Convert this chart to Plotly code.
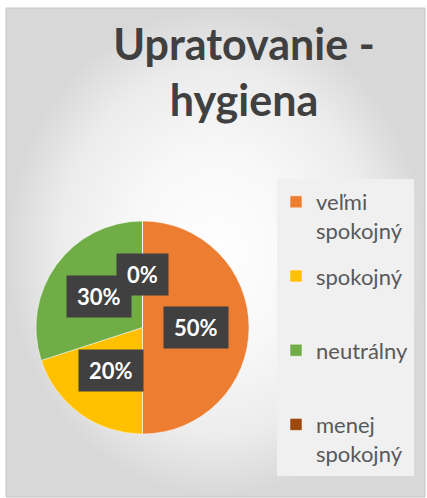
import math
import plotly.graph_objects as go

W, H = 427, 498

# ---- data ----
categories = ["veľmi spokojný", "spokojný", "neutrálny", "menej spokojný"]
legend_labels = ["veľmi<br>spokojný", "spokojný<br> ", "neutrálny<br> ", "menej<br>spokojný"]
values = [50, 20, 30, 0]
colors = ["#ED7D31", "#FFC000", "#70AD47", "#9E480E"]
title_text = "Upratovanie -<br>hygiena"

# ---- layout geometry (px) ----
AREA = dict(x0=6, x1=425, y0=8, y1=497)
PIE_L, PIE_R, PIE_T, PIE_B = 36, 249, 221, 434
LEG_BOX = dict(x0=277, x1=414, y0=179, y1=476)
LABEL_R = 0.5

fig = go.Figure()

# chart-area background with radial gradient
fig.add_trace(go.Scatter(
    x=[AREA["x0"], AREA["x1"], AREA["x1"], AREA["x0"], AREA["x0"]],
    y=[AREA["y0"], AREA["y0"], AREA["y1"], AREA["y1"], AREA["y0"]],
    mode="lines", fill="toself",
    fillgradient=dict(type="radial",
                      colorscale=[[0, "#fefefe"], [0.4, "#f8f8f8"],
                                  [0.75, "#ececec"], [1, "#d8d8d8"]]),
    line=dict(color="#c4c4c4", width=1),
    hoverinfo="skip", showlegend=False,
))

fig.add_trace(go.Pie(
    labels=legend_labels,
    values=values,
    marker=dict(colors=colors, line=dict(color="#ffffff", width=0.5)),
    sort=False, direction="clockwise", rotation=0,
    textinfo="none",
    hovertext=categories, hoverinfo="text+percent",
    domain=dict(x=[PIE_L / W, PIE_R / W], y=[1 - PIE_B / H, 1 - PIE_T / H]),
))

# invisible spacer entry so that the legend keeps each slice in its own group
fig.add_trace(go.Scatter(
    x=[None], y=[None], mode="markers", name=" ",
    marker=dict(color="rgba(0,0,0,0)", size=1),
    legendgroup="spacer", showlegend=True, hoverinfo="skip",
))

# data labels at mid-angle of each slice
total = sum(values)
cx, cy = (PIE_L + PIE_R) / 2, (PIE_T + PIE_B) / 2
R = (PIE_R - PIE_L) / 2
cum = 0
annotations = []
for v in values:
    mid = (cum + v / 2) / total * 2 * math.pi
    cum += v
    lx = cx + LABEL_R * R * math.sin(mid)
    ly = cy - LABEL_R * R * math.cos(mid)
    annotations.append(dict(
        x=lx, y=ly, xref="x", yref="y",
        text=f"<b>{round(100 * v / total)}%</b>",
        showarrow=False,
        font=dict(family="Lato", size=22, color="#ffffff"),
        bgcolor="#404040", borderpad=10, height=21,
        xanchor="center", yanchor="middle",
    ))

fig.update_layout(
    width=W, height=H,
    margin=dict(l=0, r=0, t=0, b=0, autoexpand=False),
    paper_bgcolor="#ffffff", plot_bgcolor="rgba(0,0,0,0)",
    xaxis=dict(range=[0, W], domain=[0, 1], visible=False, fixedrange=True),
    yaxis=dict(range=[H, 0], domain=[0, 1], visible=False, fixedrange=True),
    title=dict(text=f"<b>{title_text}</b>", x=244 / W, xanchor="center",
               y=1 - 60 / H, yanchor="top",
               font=dict(family="Lato", size=43, color="#404040")),
    showlegend=True,
    legend=dict(x=276 / W, y=1 - 181 / H, xanchor="left", yanchor="top",
                bgcolor="rgba(0,0,0,0)",
                font=dict(family="Lato", size=22, color="#595959"),
                traceorder="grouped", tracegroupgap=14, valign="top"),
    shapes=[dict(type="rect", xref="x", yref="y", layer="above",
                 fillcolor="#f0f0f0", line=dict(width=0), **LEG_BOX)],
    annotations=annotations,
)

fig.write_html(
    "out.html",
    config={"displayModeBar": False},
    post_script="document.body.style.margin='0';document.body.style.overflow='hidden';",
)
